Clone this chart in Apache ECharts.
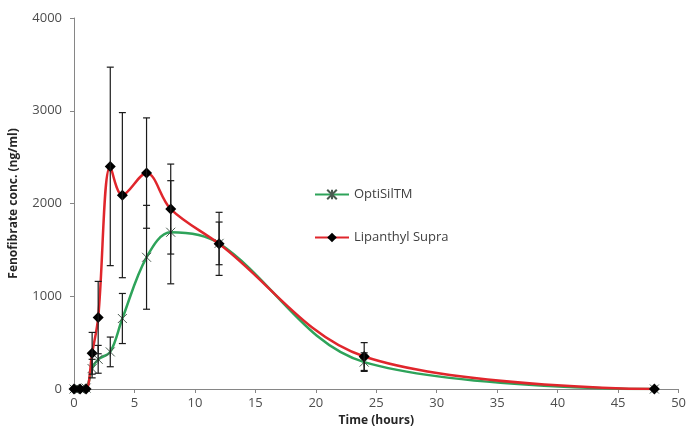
<!DOCTYPE html>
<html>
<head>
<meta charset="utf-8">
<script src="https://cdn.jsdelivr.net/npm/echarts@6/dist/echarts.min.js"></script>
<style>
  html, body { margin: 0; padding: 0; background: #fff; }
  #chart { width: 689px; height: 432px; }
</style>
</head>
<body>
<div id="chart"></div>
<script>
// sampling times (hours)
const times = [0, 0.5, 1, 1.5, 2, 3, 4, 6, 8, 12, 24, 48];
// mean plasma conc. (ng/ml) and SD
const optisil = [0, 0, 10, 220, 320, 400, 760, 1420, 1690, 1570, 290, 0];
const optisilSd = [0, 0, 0, 100, 150, 160, 270, 560, 556, 230, 100, 0];
const lipanthyl = [0, 0, 0, 385, 770, 2400, 2090, 2328, 1940, 1565, 350, 0];
const lipanthylSd = [0, 0, 0, 225, 390, 1070, 890, 595, 485, 340, 150, 0];
const xTicks = [0, 5, 10, 15, 20, 25, 30, 35, 40, 45, 50];
const yTicks = [0, 1000, 2000, 3000, 4000];

const FONT = '"Open Sans", "Liberation Sans", sans-serif';
const asterisk = 'path://M0,0L10,10M10,0L0,10M5,0L5,10';

const pairs = (ys) => times.map((t, i) => [t, ys[i]]);
const errData = (ys, sd) => times.map((t, i) => [t, ys[i], sd[i]]);

function renderErr(params, api) {
  const x = api.value(0);
  const y = api.value(1);
  const e = api.value(2);
  if (!e) return null;
  const hi = api.coord([x, y + e]);
  const lo = api.coord([x, y - e]);
  const w = 3.5;
  const style = { stroke: '#1a1a1a', lineWidth: 1.2 };
  return {
    type: 'group',
    children: [
      { type: 'line', shape: { x1: hi[0], y1: hi[1], x2: lo[0], y2: lo[1] }, style },
      { type: 'line', shape: { x1: hi[0] - w, y1: hi[1], x2: hi[0] + w, y2: hi[1] }, style },
      { type: 'line', shape: { x1: lo[0] - w, y1: lo[1], x2: lo[0] + w, y2: lo[1] }, style },
    ],
  };
}

const chart = echarts.init(document.getElementById('chart'), null, { renderer: 'canvas' });
chart.setOption({
  animation: false,
  backgroundColor: '#fff',
  textStyle: { fontFamily: FONT },
  grid: { left: 74, right: 6, top: 18, bottom: 40 },
  legend: {
    data: ['OptiSilTM', 'Lipanthyl Supra'],
    orient: 'vertical',
    left: 309,
    top: 183,
    itemWidth: 34,
    itemHeight: 12,
    itemGap: 30,
    textStyle: { fontFamily: FONT, fontSize: 13, color: '#404040' },
  },
  xAxis: {
    type: 'value',
    min: xTicks[0],
    max: xTicks[xTicks.length - 1],
    interval: 5,
    name: 'Time (hours)',
    nameLocation: 'middle',
    nameGap: 26,
    nameTextStyle: { fontFamily: FONT, fontWeight: 'bold', fontSize: 12, color: '#262626' },
    axisLine: { lineStyle: { color: '#868686', width: 1 } },
    axisTick: { show: true, length: 4, lineStyle: { color: '#868686' } },
    axisLabel: { fontFamily: FONT, fontSize: 13, color: '#4d4d4d', margin: 8 },
    splitLine: { show: false },
  },
  yAxis: {
    type: 'value',
    min: yTicks[0],
    max: yTicks[yTicks.length - 1],
    interval: 1000,
    name: 'Fenofibrate conc. (ng/ml)',
    nameLocation: 'middle',
    nameGap: 54,
    nameTextStyle: { fontFamily: FONT, fontWeight: 'bold', fontSize: 12, color: '#262626' },
    axisLine: { show: true, lineStyle: { color: '#868686', width: 1 } },
    axisTick: { show: true, length: 4, lineStyle: { color: '#868686' } },
    axisLabel: { fontFamily: FONT, fontSize: 13, color: '#4d4d4d', margin: 12, formatter: (v) => String(v) },
    splitLine: { show: false },
  },
  series: [
    {
      name: 'OptiSilTM',
      type: 'line',
      data: pairs(optisil),
      smooth: 0.35,
      z: 2,
      lineStyle: { color: '#2ea35a', width: 2.5 },
      itemStyle: { color: '#2ea35a', borderColor: '#4a5a50', borderWidth: 1 },
      symbol: asterisk,
      symbolSize: 9,
    },
    {
      name: 'Lipanthyl Supra',
      type: 'line',
      data: pairs(lipanthyl),
      smooth: 0.35,
      z: 3,
      lineStyle: { color: '#e0262c', width: 2.5 },
      itemStyle: { color: '#000', borderColor: '#000', borderWidth: 0 },
      symbol: 'diamond',
      symbolSize: 11,
    },
    {
      name: 'OptiSil SD',
      type: 'custom',
      data: errData(optisil, optisilSd),
      renderItem: renderErr,
      encode: { x: 0, y: 1 },
      z: 4,
      silent: true,
    },
    {
      name: 'Lipanthyl SD',
      type: 'custom',
      data: errData(lipanthyl, lipanthylSd),
      renderItem: renderErr,
      encode: { x: 0, y: 1 },
      z: 4,
      silent: true,
    },
  ],
});
</script>
</body>
</html>
